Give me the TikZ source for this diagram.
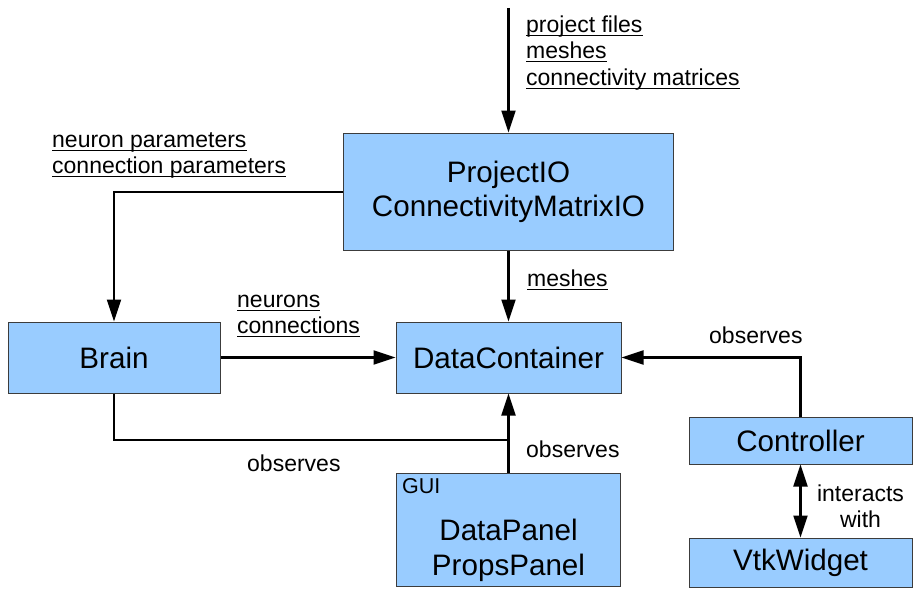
\documentclass[tikz,border=0pt]{standalone}
\usepackage{fontspec}
\setmainfont{Liberation Sans}
\usetikzlibrary{arrows.meta}
\definecolor{boxfill}{HTML}{99CCFF}
\definecolor{boxline}{HTML}{3C3C3C}
\newcommand\ulx[1]{\setbox0\hbox{#1}\rlap{\rule[-3.6pt]{\wd0}{1.2pt}}\box0}
\newcommand\topstr{\rule{0pt}{17pt}}
\begin{document}
\begin{tikzpicture}[x=1pt,y=-1pt,
  box/.style={draw=boxline, line width=1pt, fill=boxfill, inner sep=0pt,
    align=center, font=\fontsize{29.6}{34}\selectfont},
  boxtext/.style={inner sep=0pt, align=center, font=\fontsize{29.6}{35}\selectfont},
  lbl/.style={inner sep=0pt, anchor=north west, align=left, font=\fontsize{23}{26.5}\selectfont},
  lblc/.style={inner sep=0pt, anchor=north, align=center, font=\fontsize{23}{26}\selectfont},
  guilbl/.style={inner sep=6pt, anchor=north west, font=\fontsize{21.5}{24}\selectfont},
  arr/.style={line width=2.2pt, -{Triangle[length=22pt,width=14pt]}},
  darr/.style={line width=2.2pt, {Triangle[length=22pt,width=14pt]}-{Triangle[length=22pt,width=14pt]}},
  line/.style={line width=2.2pt}
]
\useasboundingbox (0,0) rectangle (921,594);
% boxes
\node[box, minimum width=330pt, minimum height=117pt] (pio) at (508.5,191.5) {ProjectIO\\ConnectivityMatrixIO};
\node[box, minimum width=212pt, minimum height=71pt] (brain) at (114,357.5) {Brain};
\node[box, minimum width=225pt, minimum height=71pt] (dc) at (508.5,357.5) {DataContainer};
\node[box, minimum width=224pt, minimum height=113pt] (gui) at (508.5,529.5) {};
\node[boxtext] (guitxt) at ([yshift=-20.5pt]gui.center) {DataPanel\\PropsPanel};
\node[guilbl] (guilabel) at ([yshift=0.5pt]gui.north west) {GUI};
\node[box, minimum width=223pt, minimum height=47pt] (ctrl) at (800.5,440.5) {Controller};
\node[box, minimum width=223pt, minimum height=49pt] (vtk) at (800.5,562.5) {VtkWidget};
% connectors
\coordinate (src) at (508.5,8);
\coordinate (jy) at (0,440);
\draw[arr] (src) -- (pio.north);
\draw[arr] (pio.west |- 0,192) -| (brain.north);
\draw[arr] (brain.east) -- (dc.west);
\draw[arr] (pio.south) -- (dc.north);
\draw[line] (brain.south) |- (dc.south |- jy);
\draw[arr] (gui.north) -- (dc.south);
\draw[arr] (ctrl.north) |- (dc.east);
\draw[darr] (ctrl.south) -- (vtk.north);
% labels
\node[lbl] (inlbl) at (526,15) {\topstr\ulx{project files}\\\ulx{meshes}\\\ulx{connectivity matrices}};
\node[lbl] (parlbl) at (52,130) {\topstr\ulx{neuron parameters}\\\ulx{connection parameters}};
\node[lbl] (nclbl) at (237,290) {\topstr\ulx{neurons}\\\ulx{connections}};
\node[lbl] (meshlbl) at (527,269) {\topstr\ulx{meshes}};
\node[lbl] (obs1) at (709,326) {\topstr observes};
\node[lbl] (obs2) at (526,440) {\topstr observes};
\node[lbl] (obs3) at (247,454) {\topstr observes};
\node[lblc] (intlbl) at (860.5,484) {\topstr interacts\\with};
\end{tikzpicture}
\end{document}
